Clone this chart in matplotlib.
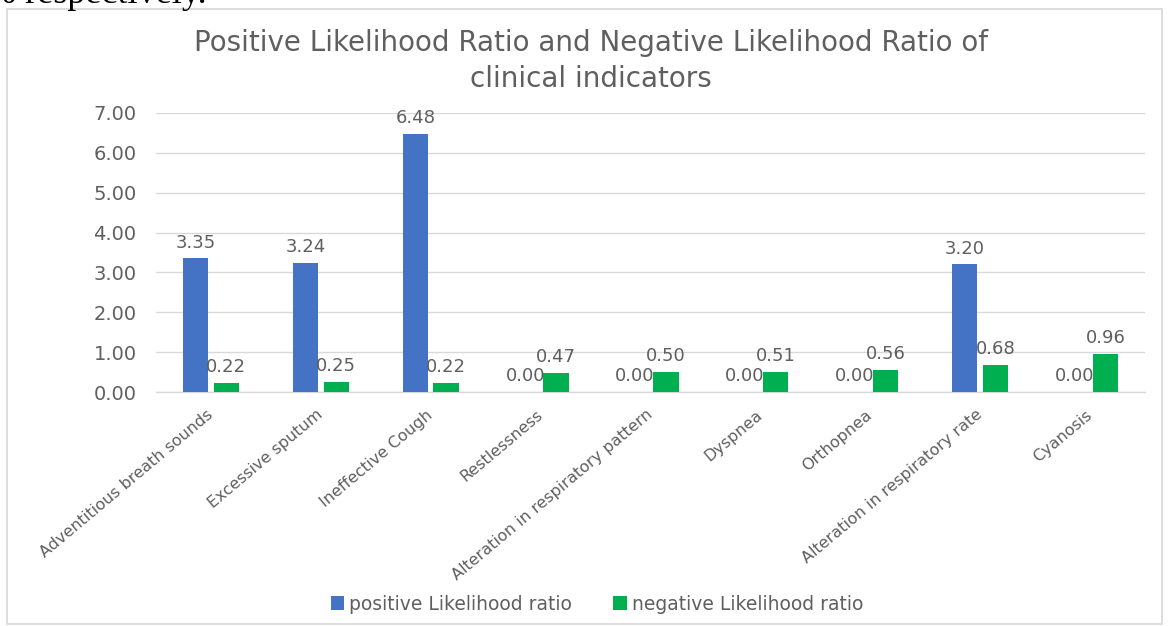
import matplotlib
matplotlib.use("Agg")
import matplotlib.pyplot as plt
from matplotlib.patches import Rectangle
import numpy as np

categories = [
    "Adventitious breath sounds",
    "Excessive sputum",
    "Ineffective Cough",
    "Restlessness",
    "Alteration in respiratory pattern",
    "Dyspnea",
    "Orthopnea",
    "Alteration in respiratory rate",
    "Cyanosis",
]
positive_lr = [3.35, 3.24, 6.48, 0.00, 0.00, 0.00, 0.00, 3.20, 0.00]
negative_lr = [0.22, 0.25, 0.22, 0.47, 0.50, 0.51, 0.56, 0.68, 0.96]
series_names = ["positive Likelihood ratio", "negative Likelihood ratio"]
y_ticks = [0, 1, 2, 3, 4, 5, 6, 7]
title = "Positive Likelihood Ratio and Negative Likelihood Ratio of\nclinical indicators"

W, H = 1172, 626
DPI = 100
TEXT = "#5f5f5f"
GRID = "#d9d9d9"
BLUE = "#4472C4"
GREEN = "#00B050"

plt.rcParams["font.family"] = ["DejaVu Sans"]

fig = plt.figure(figsize=(W / DPI, H / DPI), dpi=DPI)
fig.patch.set_facecolor("white")


def px(x0, y0, x1, y1):
    """Pixel box (top-left origin) -> figure-fraction rect."""
    return [x0 / W, 1 - y1 / H, (x1 - x0) / W, (y1 - y0) / H]


# surrounding document text, clipped by the top edge
fig.text(-0.012, 1 - 3 / H, "% respectively.", family=["Liberation Serif"],
         fontsize=26, color="black", ha="left", va="baseline")

# chart area frame
fig.patches.append(Rectangle((7 / W, 2 / H), 1155 / W, 1 - 11 / H,
                             transform=fig.transFigure, fill=False,
                             edgecolor="#dadada", linewidth=1.3))

ax = fig.add_axes(px(156, 113, 1145, 392))
x = np.arange(len(categories))
bw = 0.23
off = 0.14
b1 = ax.bar(x - off, positive_lr, bw, color=BLUE, label=series_names[0], zorder=3)
b2 = ax.bar(x + off, negative_lr, bw, color=GREEN, label=series_names[1], zorder=3)

for bars, vals in ((b1, positive_lr), (b2, negative_lr)):
    for r, v in zip(bars, vals):
        ax.annotate(f"{v:.2f}", (r.get_x() + r.get_width() / 2, v),
                    xytext=(0, 5), textcoords="offset points",
                    ha="center", va="bottom", fontsize=13, color=TEXT, zorder=4)

ax.set_xlim(-0.5, len(categories) - 0.5)
ax.set_ylim(0, 7)
ax.set_yticks(y_ticks)
ax.set_yticklabels([f"{t:.2f}" for t in y_ticks], fontsize=14, color=TEXT)
ax.yaxis.grid(True, color=GRID, linewidth=1.0, zorder=0)
ax.set_axisbelow(True)
for s in ("top", "right", "left"):
    ax.spines[s].set_visible(False)
ax.spines["bottom"].set_color(GRID)
ax.spines["bottom"].set_linewidth(1.0)
ax.tick_params(axis="y", length=0, pad=14)
ax.tick_params(axis="x", length=0, pad=15)
ax.set_xticks(x)
ax.set_xticklabels(categories, rotation=40, ha="right", va="center",
                   rotation_mode="anchor", fontsize=11.5, color=TEXT)

fig.text(591 / W, 1 - 61 / H, title, ha="center", va="center", fontsize=20,
         color=TEXT, linespacing=1.32)

leg = fig.legend(handles=[b1, b2], labels=series_names, loc="center",
                 bbox_to_anchor=(597 / W, 1 - 604 / H), ncol=2, frameon=False,
                 fontsize=13.5, handlelength=0.7, handleheight=0.7,
                 handletextpad=0.3, columnspacing=2.2)
for t in leg.get_texts():
    t.set_color(TEXT)

fig.savefig("out.png", dpi=DPI)
